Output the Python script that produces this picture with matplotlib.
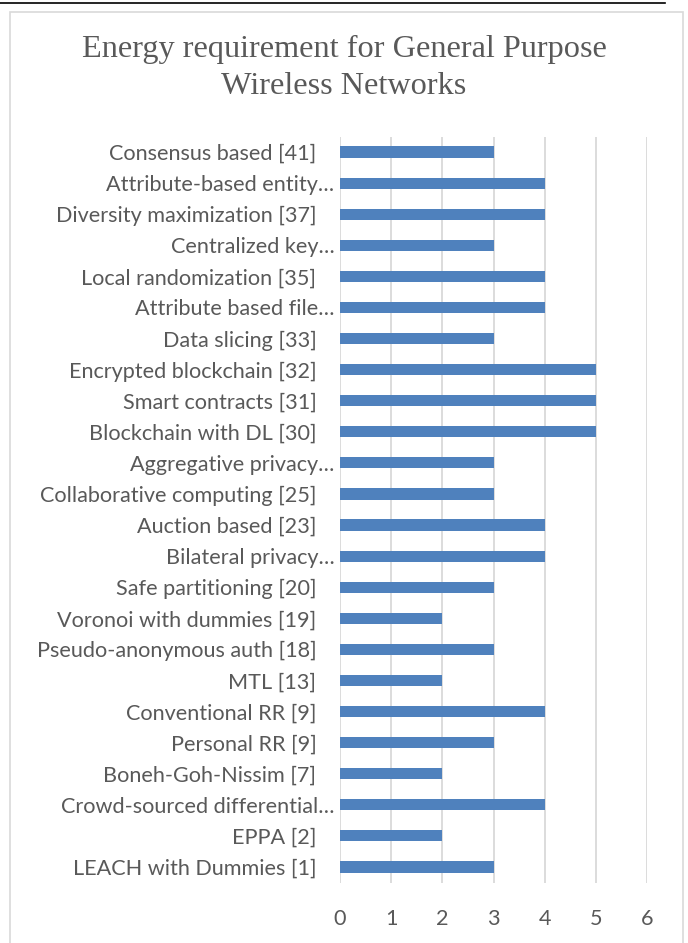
import matplotlib
matplotlib.use("Agg")
import matplotlib.pyplot as plt
from matplotlib.transforms import ScaledTranslation
from matplotlib.patches import Rectangle
from matplotlib.lines import Line2D

# categories listed top to bottom as shown in the chart
labels = [
    "Consensus based [41]",
    "Attribute-based entity…",
    "Diversity maximization [37]",
    "Centralized key…",
    "Local randomization [35]",
    "Attribute based file…",
    "Data slicing [33]",
    "Encrypted blockchain [32]",
    "Smart contracts [31]",
    "Blockchain with DL [30]",
    "Aggregative privacy…",
    "Collaborative computing [25]",
    "Auction based [23]",
    "Bilateral privacy…",
    "Safe partitioning [20]",
    "Voronoi with dummies [19]",
    "Pseudo-anonymous auth [18]",
    "MTL [13]",
    "Conventional RR [9]",
    "Personal RR [9]",
    "Boneh-Goh-Nissim [7]",
    "Crowd-sourced differential…",
    "EPPA [2]",
    "LEACH with Dummies [1]",
]
energy = [3, 4, 4, 3, 4, 4, 3, 5, 5, 5, 3, 3, 4, 4, 3, 2, 3, 2, 4, 3, 2, 4, 2, 3]
x_ticks = [0, 1, 2, 3, 4, 5, 6]

BAR = "#4F81BD"
TXT = "#595959"
GRID = "#D9D9D9"

fig = plt.figure(figsize=(6.88, 9.43), dpi=100)

# chart frame and the rule line above it
fig.add_artist(Rectangle((10 / 688, -0.01), (683 - 10) / 688, 1 - 12 / 943 + 0.01,
                         transform=fig.transFigure, fill=False, edgecolor=GRID, lw=1.2))
fig.add_artist(Line2D([0, 665 / 688], [1 - 3 / 943] * 2, transform=fig.transFigure,
                      color="black", lw=1.2))

ax = fig.add_axes([340 / 688, 1 - 882.5 / 943, (647 - 340) / 688, (882.5 - 136.5) / 943])

pos = list(range(len(labels)))[::-1]
ax.barh(pos, energy, height=0.36, color=BAR, zorder=3)

ax.set_xlim(0, 6)
ax.set_ylim(-0.5, len(labels) - 0.5)
ax.set_xticks(x_ticks)
ax.set_xticklabels([str(t) for t in x_ticks])
ax.set_yticks(pos)
ax.set_yticklabels(labels)
ax.grid(axis="x", color=GRID, lw=1.3, zorder=0)
for s in ax.spines.values():
    s.set_visible(False)
ax.tick_params(axis="both", length=0, colors=TXT, labelsize=15.6)
ax.tick_params(axis="x", pad=19)
ax.tick_params(axis="y", pad=4)
for t in ax.get_xticklabels() + ax.get_yticklabels():
    t.set_fontfamily("Lato")

# full labels sit a little further left than the truncated ones
for t in ax.get_yticklabels():
    if not t.get_text().endswith("…"):
        t.set_transform(t.get_transform() + ScaledTranslation(-18 / 100, 0, fig.dpi_scale_trans))

fig.text(0.5, 1 - 49 / 943, "Energy requirement for General Purpose", ha="center", va="center",
         fontsize=23.2, family="Liberation Serif", color=TXT)
fig.text(0.5, 1 - 87 / 943, "Wireless Networks", ha="center", va="center",
         fontsize=23.2, family="Liberation Serif", color=TXT)

fig.savefig("out.png", dpi=100)
